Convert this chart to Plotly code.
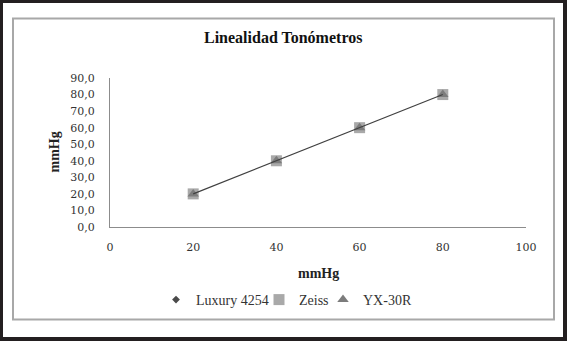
import plotly.graph_objects as go

x_vals = [20, 40, 60, 80]
luxury = [20, 40, 60, 80]
zeiss = [20, 40, 60, 80]
yx30r = [20, 40, 60, 80]

W, H = 567, 341
L, R, T, B = 110, 41, 78, 114
pw, ph = W - L - R, H - T - B


def px(x):
    return (x - L) / pw


def py(y):
    return (H - B - y) / ph


serif = "Liberation Serif, Times New Roman, serif"
tickfont = "DejaVu Serif, serif"
fig = go.Figure()

fig.add_trace(go.Scatter(x=x_vals, y=luxury, mode="markers", name="Luxury 4254", legend="legend",
                         marker=dict(symbol="diamond", size=6, color="#4a4a4a")))
fig.add_trace(go.Scatter(x=x_vals, y=zeiss, mode="markers", name="Zeiss", legend="legend2",
                         marker=dict(symbol="square", size=11, color="#a9a9a9")))
fig.add_trace(go.Scatter(x=x_vals, y=yx30r, mode="markers", name="YX-30R", legend="legend3",
                         marker=dict(symbol="triangle-up", size=10, color="#7c7c7c")))
fig.add_trace(go.Scatter(x=x_vals, y=luxury, mode="lines", line=dict(color="#404040", width=1.2),
                         showlegend=False, hoverinfo="skip"))

shapes = [
    dict(type="rect", xref="paper", yref="paper", x0=px(3), x1=px(563), y0=py(3), y1=py(337),
         fillcolor="white", line=dict(width=0), layer="below"),
    dict(type="rect", xref="paper", yref="paper", x0=px(13), x1=px(554), y0=py(18.5), y1=py(319.5),
         fillcolor="rgba(0,0,0,0)", line=dict(color="#a8a8a8", width=2), layer="below"),
]

annotations = [
    dict(text="<b>Linealidad Tonómetros</b>", xref="paper", yref="paper", x=px(283), y=py(38),
         xanchor="center", yanchor="middle",
         showarrow=False, font=dict(family=serif, size=16, color="#111")),
    dict(text="<b>mmHg</b>", xref="paper", yref="paper", x=px(53.5), y=py(152), textangle=-90,
         xanchor="center", yanchor="middle",
         showarrow=False, font=dict(family=serif, size=14, color="#222")),
    dict(text="<b>mmHg</b>", xref="paper", yref="paper", x=px(318), y=py(273),
         xanchor="center", yanchor="middle",
         showarrow=False, font=dict(family=serif, size=14, color="#222")),
]

leg_common = dict(orientation="h", xanchor="left", y=py(300), yanchor="middle",
                  font=dict(family=serif, size=14, color="#333"),
                  bgcolor="rgba(0,0,0,0)", itemwidth=30)

fig.update_layout(
    width=W, height=H,
    margin=dict(l=L, r=R, t=T, b=B, autoexpand=False),
    paper_bgcolor="#231f20",
    plot_bgcolor="white",
    separators=",.",
    shapes=shapes,
    annotations=annotations,
    legend=dict(x=px(156), **leg_common),
    legend2=dict(x=px(259), **leg_common),
    legend3=dict(x=px(323), **leg_common),
    xaxis=dict(range=[0, 100], dtick=20, showgrid=False, zeroline=False, showline=True,
               linecolor="#8c8c8c", linewidth=1, ticks="", ticklabelstandoff=10,
               tickfont=dict(family=tickfont, size=11, color="#333")),
    yaxis=dict(range=[0, 90], dtick=10, tickformat=".1f", showgrid=False, zeroline=False,
               showline=True, linecolor="#8c8c8c", linewidth=1, ticks="", ticklabelstandoff=12,
               tickfont=dict(family=tickfont, size=11, color="#333")),
)

fig.write_html("out.html", config={"displayModeBar": False},
               post_script="document.body.style.margin='0';")
